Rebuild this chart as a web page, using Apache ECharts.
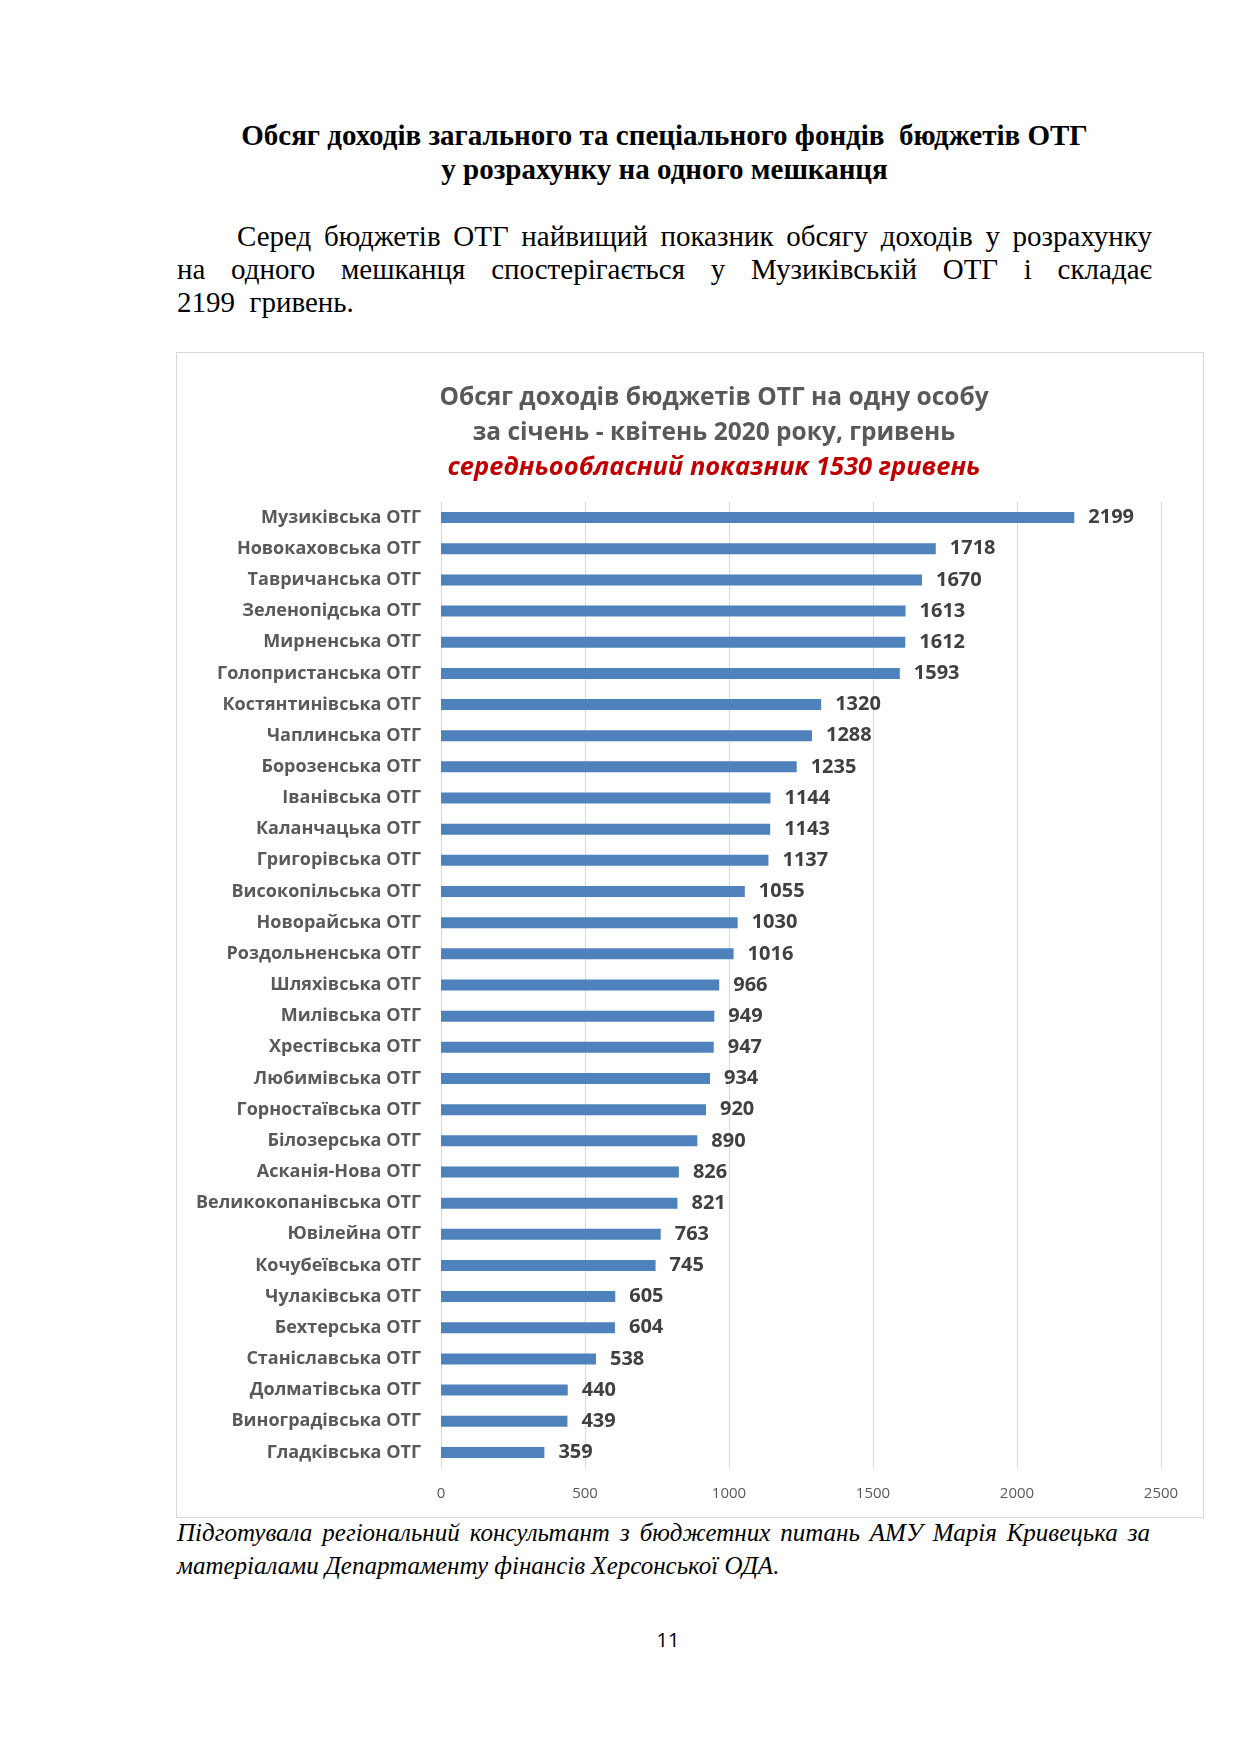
<!DOCTYPE html>
<html>
<head>
<meta charset="utf-8">
<script src="https://cdn.jsdelivr.net/npm/echarts@6/dist/echarts.min.js"></script>
<style>
  html, body { margin: 0; padding: 0; background: #fff; }
  body { width: 1241px; height: 1755px; position: relative; overflow: hidden; }
  .t { position: absolute; white-space: nowrap; color: #000; }
  .h { font-family: "Liberation Serif", serif; font-weight: bold; font-size: 29px; line-height: 29px; left: 177px; width: 975px; text-align: center; }
  .p { font-family: "Liberation Serif", serif; font-size: 29px; line-height: 29px; }
  .j { text-align: justify; text-align-last: justify; white-space: normal; }
  .f { font-family: "Liberation Serif", serif; font-style: italic; font-size: 25px; line-height: 25px; }
  #chart { position: absolute; left: 176px; top: 352px; width: 1026px; height: 1164px; border: 1px solid #d9d9d9; }
  .pn { font-family: "Open Sans", sans-serif; font-size: 20px; line-height: 20px; left: 618px; width: 100px; text-align: center; }
</style>
</head>
<body>
<div class="t h" style="top:121px;">Обсяг доходів загального та спеціального фондів&nbsp; бюджетів ОТГ</div>
<div class="t h" style="top:155px;">у розрахунку на одного мешканця</div>

<div class="t p j" style="top:222px; left:237px; width:915px;">Серед бюджетів ОТГ  найвищий показник обсягу доходів  у розрахунку</div>
<div class="t p j" style="top:255px; left:177px; width:975px;">на одного мешканця  спостерігається у Музиківській ОТГ і складає</div>
<div class="t p" style="top:288px; left:177px;">2199&nbsp; гривень.</div>

<div id="chart"></div>

<div class="t f j" style="top:1520px; left:177px; width:973px;">Підготувала регіональний консультант з бюджетних питань АМУ Марія Кривецька за</div>
<div class="t f" style="top:1553px; left:177px;">матеріалами Департаменту фінансів Херсонської ОДА.</div>

<div class="t pn" style="top:1630px;">11</div>

<script>
const categories = [
  "Музиківська ОТГ", "Новокаховська ОТГ", "Тавричанська ОТГ", "Зеленопідська ОТГ",
  "Мирненська ОТГ", "Голопристанська ОТГ", "Костянтинівська ОТГ", "Чаплинська ОТГ",
  "Борозенська ОТГ", "Іванівська ОТГ", "Каланчацька ОТГ", "Григорівська ОТГ",
  "Високопільська ОТГ", "Новорайська ОТГ", "Роздольненська ОТГ", "Шляхівська ОТГ",
  "Милівська ОТГ", "Хрестівська ОТГ", "Любимівська ОТГ", "Горностаївська ОТГ",
  "Білозерська ОТГ", "Асканія-Нова ОТГ", "Великокопанівська ОТГ", "Ювілейна ОТГ",
  "Кочубеївська ОТГ", "Чулаківська ОТГ", "Бехтерська ОТГ", "Станіславська ОТГ",
  "Долматівська ОТГ", "Виноградівська ОТГ", "Гладківська ОТГ"
];
const values = [
  2199, 1718, 1670, 1613, 1612, 1593, 1320, 1288, 1235, 1144, 1143, 1137,
  1055, 1030, 1016, 966, 949, 947, 934, 920, 890, 826, 821, 763,
  745, 605, 604, 538, 440, 439, 359
];
const titleLines = ["Обсяг доходів бюджетів ОТГ на одну особу", "за січень - квітень 2020 року, гривень"];
const subtitleLine = "середньообласний показник 1530 гривень";
const axisMin = 0, axisMax = 2500, axisStep = 500;

const chart = echarts.init(document.getElementById('chart'), null, { renderer: 'canvas' });
chart.setOption({
  animation: false,
  backgroundColor: '#ffffff',
  title: [
    {
      text: titleLines.join('\n'),
      left: 532, top: 23, textAlign: 'center',
      textStyle: { fontFamily: 'Open Sans', fontWeight: 'bold', fontSize: 24.5, lineHeight: 35, color: '#595959' }
    },
    {
      text: subtitleLine,
      left: 532, top: 92, textAlign: 'center',
      textStyle: { fontFamily: 'Open Sans', fontWeight: 'bold', fontStyle: 'italic', fontSize: 25.5, lineHeight: 35, color: '#C00000' }
    }
  ],
  grid: { left: 264, right: 42, top: 149, bottom: 49, containLabel: false },
  xAxis: {
    type: 'value', min: axisMin, max: axisMax, interval: axisStep,
    axisLine: { show: false }, axisTick: { show: false },
    axisLabel: { fontFamily: 'Open Sans', fontSize: 15, color: '#595959', margin: 18, formatter: v => String(v) },
    splitLine: { show: true, lineStyle: { color: '#d9d9d9', width: 1 } }
  },
  yAxis: {
    type: 'category', data: categories, inverse: true,
    axisLine: { show: false }, axisTick: { show: false },
    axisLabel: { fontFamily: 'Open Sans', fontWeight: 'bold', fontSize: 18, color: '#595959', margin: 20 }
  },
  series: [{
    type: 'bar', data: values, barWidth: 11,
    itemStyle: { color: '#4F81BD' },
    label: { show: true, position: 'right', distance: 14, fontFamily: 'Open Sans', fontWeight: 'bold', fontSize: 20, color: '#404040' }
  }]
});
</script>
</body>
</html>
